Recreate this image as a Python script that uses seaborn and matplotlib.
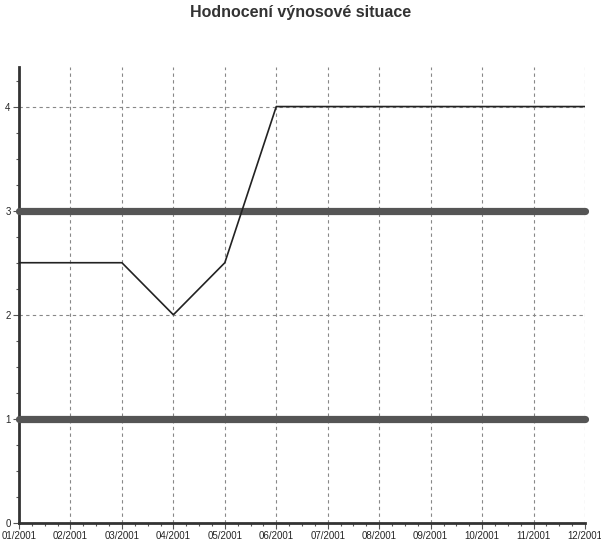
import matplotlib
matplotlib.use('Agg')
import matplotlib.pyplot as plt
import pandas as pd
import seaborn as sns
from matplotlib.ticker import MultipleLocator

months = ['01/2001', '02/2001', '03/2001', '04/2001', '05/2001', '06/2001',
          '07/2001', '08/2001', '09/2001', '10/2001', '11/2001', '12/2001']
rating = [2.5, 2.5, 2.5, 2.0, 2.5, 4, 4, 4, 4, 4, 4, 4]
lower_limit = [1] * 12
upper_limit = [3] * 12

df = pd.DataFrame({'idx': range(len(months)), 'month': months, 'rating': rating,
                   'low': lower_limit, 'high': upper_limit})

sns.set_style('white')
plt.rcParams['font.family'] = ['Liberation Sans', 'DejaVu Sans']

fig = plt.figure(figsize=(6.01, 5.41), dpi=100)
ax = fig.add_axes([19 / 601, 1 - 523 / 541, 566 / 601, 456 / 541])

# limit lines (thick, rounded ends)
for col in ['low', 'high']:
    sns.lineplot(data=df, x='idx', y=col, ax=ax, color='#555555', linewidth=5.2,
                 zorder=3, solid_capstyle='round', clip_on=False)
sns.lineplot(data=df, x='idx', y='rating', ax=ax, color='#222222', linewidth=1.2, zorder=4)

ax.set_xlim(0, 11)
ax.set_ylim(0, 4.38)
ax.set_xticks(range(len(months)))
ax.set_xticklabels(months)
ax.xaxis.set_minor_locator(MultipleLocator(0.25))
ax.set_yticks([0, 1, 2, 3, 4])
ax.yaxis.set_minor_locator(MultipleLocator(0.25))
ax.set_xlabel('')
ax.set_ylabel('')

ax.grid(True, which='major', linestyle=(0, (3, 3)), color='#888888', linewidth=0.8)
for s in ['top', 'right']:
    ax.spines[s].set_visible(False)
for s in ['left', 'bottom']:
    ax.spines[s].set_color('#333333')
    ax.spines[s].set_linewidth(2)

ax.tick_params(which='major', length=4, width=0.8, color='#555555', labelsize=7, pad=2,
               left=True, bottom=True)
ax.tick_params(which='minor', length=2, width=0.8, color='#555555', left=True, bottom=True)

fig.suptitle('Hodnocení výnosové situace', x=0.5, y=0.99, fontsize=11.5, fontweight='bold',
             color='#333333')

plt.savefig('out.png', dpi=100)
